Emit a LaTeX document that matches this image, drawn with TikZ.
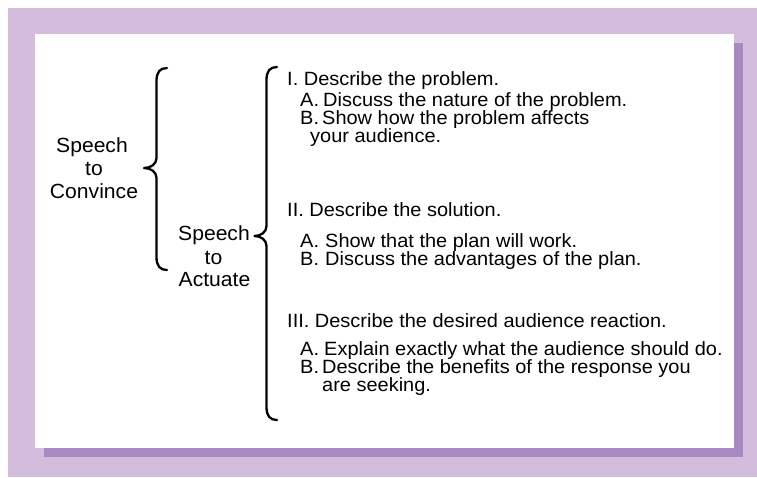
\documentclass[tikz,border=0pt]{standalone}
\usepackage{fontspec}
\setmainfont{Liberation Sans}
\newfontfamily\itemfont[FakeStretch=1.04]{Liberation Sans}
\newfontfamily\labelfont[FakeStretch=1.03]{Liberation Sans}

\definecolor{lilac}{RGB}{212,188,220}
\definecolor{lilacdark}{RGB}{168,137,192}

% fixed-width slot for an outline marker, so the item text starts at a tab stop
\newcommand\itemlabel[2]{\makebox[#1][l]{#2}}

\begin{document}
\begin{tikzpicture}[x=1pt,y=-1pt,
  entry/.style={anchor=base west, inner sep=0pt,
    font=\itemfont\fontsize{19.2}{22}\selectfont},
  tag/.style={anchor=base, inner sep=0pt,
    font=\labelfont\fontsize{20.5}{23}\selectfont},
  brace/.style={line width=2.3pt, line cap=round, line join=round}]

\useasboundingbox (0,0) rectangle (757,477);

% frame: lilac field, drop shadow, white card
\fill[white] (0,0) rectangle (757,477);
\fill[lilac] (8,8) rectangle (757,477);
\fill[lilacdark] (44,43) rectangle (743,457);
\fill[white] (35,34) rectangle (734,448);

% left labels
\node[tag] (conv1) at (92,152) {Speech};
\node[tag] (conv2) at (94,175.5) {to};
\node[tag] (conv3) at (94,198.3) {Convince};

\node[tag] (act1) at (214,240.7) {Speech};
\node[tag] (act2) at (213.5,264) {to};
\node[tag] (act3) at (214.5,286.7) {Actuate};

% outer brace
\draw[brace] (167,68) .. controls (160,68) and (156.5,72) .. (156.5,81)
  -- (156.5,158) .. controls (156.5,164) and (151,168) .. (144,168)
  .. controls (151,168) and (156.5,172) .. (156.5,178)
  -- (156.5,257) .. controls (156.5,266) and (160,270) .. (167,270);

% inner brace
\draw[brace] (277,67) .. controls (270,67) and (266.5,71) .. (266.5,80)
  -- (266.5,226) .. controls (266.5,232) and (261,236) .. (254.5,236)
  .. controls (261,236) and (266.5,240) .. (266.5,246)
  -- (266.5,407) .. controls (266.5,416) and (270,420) .. (277,420);

% outline: I
\node[entry] (h1) at (287,85.5) {I. Describe the problem.};
\node[entry] (h1a) at (300,106.5) {\itemlabel{23pt}{A.}Discuss the nature of the problem.};
\node[entry] (h1b) at (300,124.5) {\itemlabel{22pt}{B.}Show how the problem affects};
\node[entry] (h1c) at (310,142.5) {your audience.};

% outline: II
\node[entry] (h2) at (287,216.5) {II. Describe the solution.};
\node[entry] (h2a) at (300,247) {\itemlabel{25pt}{A.}Show that the plan will work.};
\node[entry] (h2b) at (300,265) {\itemlabel{25pt}{B.}Discuss the advantages of the plan.};

% outline: III
\node[entry] (h3) at (287,327) {III. Describe the desired audience reaction.};
\node[entry] (h3a) at (300,355) {\itemlabel{24pt}{A.}Explain exactly what the audience should do.};
\node[entry] (h3b) at (300,373) {\itemlabel{22pt}{B.}Describe the benefits of the response you};
\node[entry] (h3c) at (322,391.5) {are seeking.};

\end{tikzpicture}
\end{document}
